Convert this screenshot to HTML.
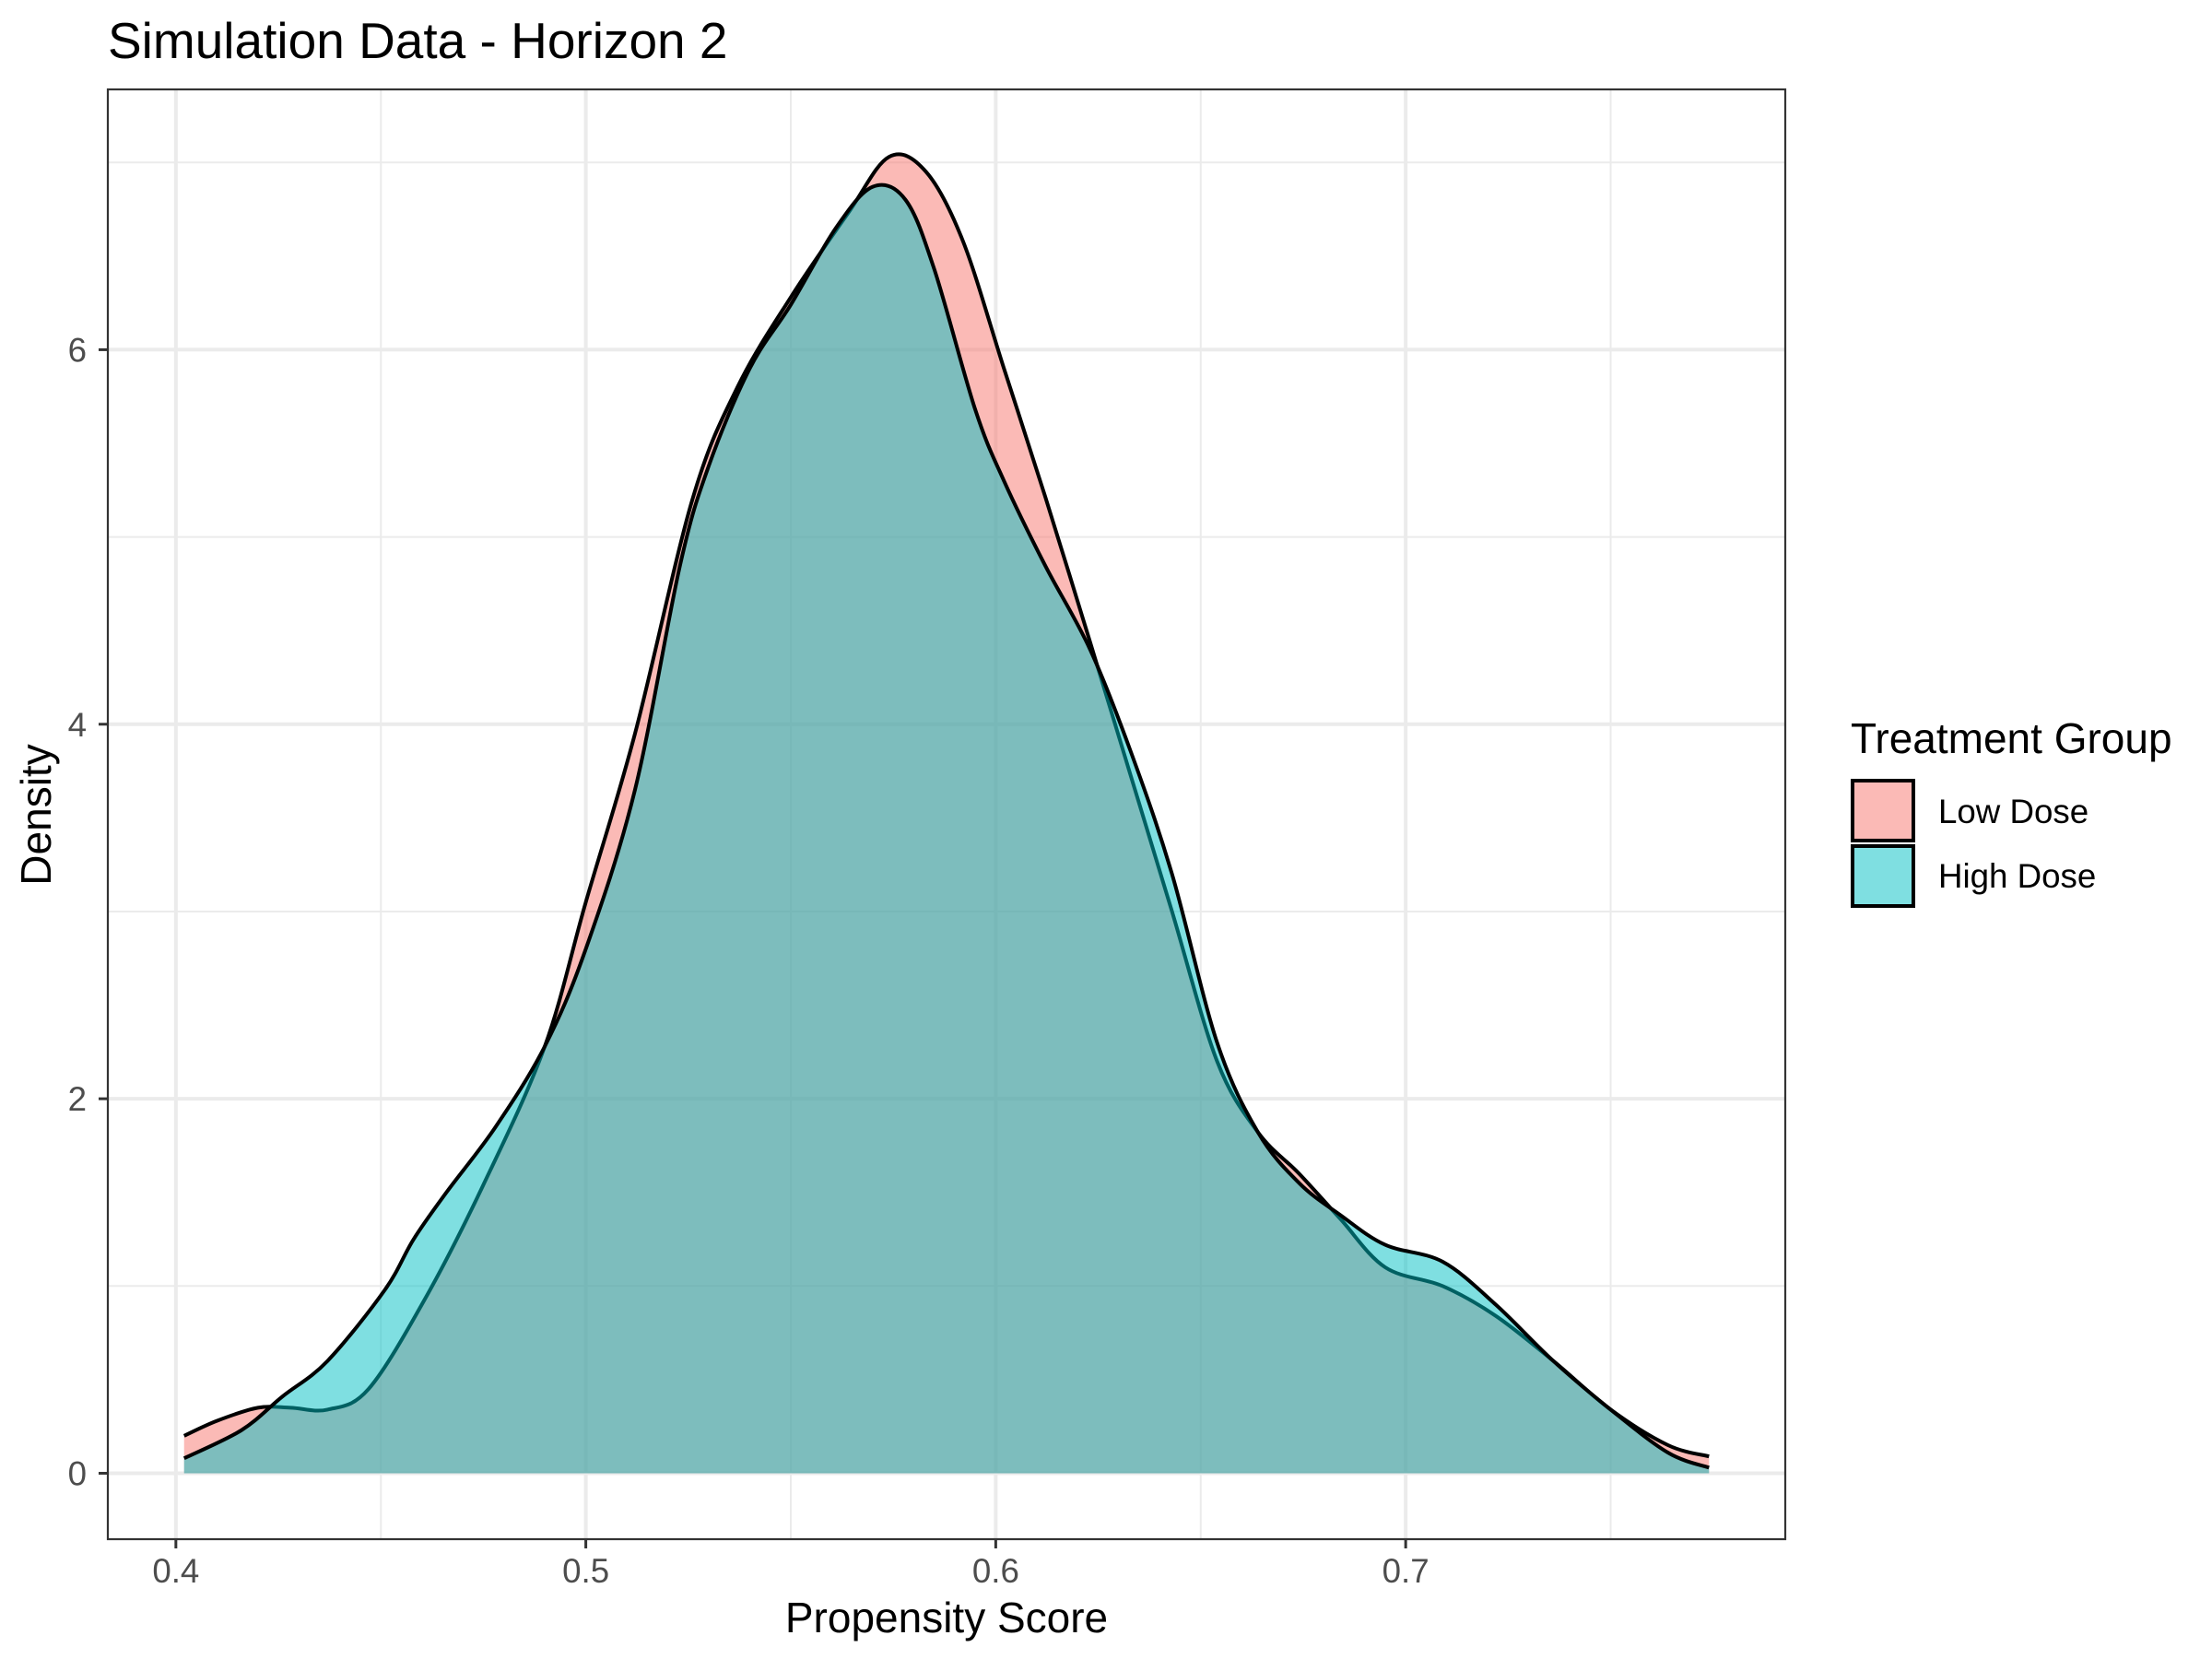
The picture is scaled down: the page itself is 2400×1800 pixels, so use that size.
<!DOCTYPE html>
<html><head><meta charset="utf-8"><style>
html,body{margin:0;padding:0;background:#fff;}
svg{display:block;font-family:"Liberation Sans",Arial,sans-serif;}
</style></head><body>
<svg id="chart" width="2400" height="1800" viewBox="0 0 2400 1800">
<rect width="2400" height="1800" fill="#fff"/>
<text x="117" y="63" font-size="55" fill="#000">Simulation Data - Horizon 2</text>
<g id="grid"></g>
<g id="series"></g>
<rect x="117" y="97" width="1820" height="1573" fill="none" stroke="#333" stroke-width="2.2"/>
<g id="axes"></g>
<text x="1027" y="1771" font-size="46" text-anchor="middle" fill="#000">Propensity Score</text>
<text transform="translate(55,884) rotate(-90)" font-size="46" text-anchor="middle" fill="#000">Density</text>
<g>
<text x="2008" y="817" font-size="46" fill="#000">Treatment Group</text>
<rect x="2010" y="847" width="66" height="65" fill="#F8766D" fill-opacity="0.5" stroke="#000" stroke-width="4"/>
<text x="2103" y="893" font-size="36.7" fill="#000">Low Dose</text>
<rect x="2010" y="918" width="66" height="65" fill="#00BFC4" fill-opacity="0.5" stroke="#000" stroke-width="4"/>
<text x="2103" y="963" font-size="36.7" fill="#000">High Dose</text>
</g>
</svg>
<script>
const lowX = [0.402,0.41,0.42,0.428,0.437,0.447,0.461,0.475,0.49,0.5,0.512,0.526,0.537,0.55,0.564,0.574,0.583,0.592,0.602,0.612,0.623,0.633,0.643,0.654,0.664,0.674,0.684,0.695,0.709,0.722,0.736,0.75,0.764,0.774];
const lowY = [0.20,0.28,0.35,0.35,0.34,0.45,0.94,1.54,2.28,3.05,3.95,5.2,5.8,6.28,6.73,7.03,6.95,6.58,5.9,5.22,4.44,3.72,3.0,2.2,1.82,1.6,1.36,1.1,1.0,0.84,0.6,0.34,0.15,0.09];
const highX = [0.402,0.416,0.426,0.437,0.451,0.458,0.466,0.478,0.49,0.5,0.512,0.523,0.53,0.54,0.55,0.561,0.57,0.578,0.585,0.595,0.602,0.612,0.623,0.633,0.643,0.654,0.664,0.674,0.684,0.695,0.709,0.722,0.736,0.75,0.764,0.774];
const highY = [0.08,0.23,0.41,0.6,0.98,1.25,1.5,1.85,2.28,2.8,3.65,4.85,5.38,5.9,6.24,6.65,6.87,6.8,6.43,5.68,5.3,4.85,4.4,3.85,3.2,2.3,1.82,1.55,1.38,1.22,1.13,0.9,0.6,0.34,0.11,0.03];
const xMajor = [0.4,0.5,0.6,0.7];
const xMinor = [0.45,0.55,0.65,0.75];
const yMajor = [0,2,4,6];
const yMinor = [1,3,5,7];
const xTickLabels = ["0.4","0.5","0.6","0.7"];
const yTickLabels = ["0","2","4","6"];

const NS = "http://www.w3.org/2000/svg";
const PL = 117, PR = 1937, PT = 97, PB = 1670;
const X0 = 0.3834, X1 = 0.7926, Y0 = -0.352, Y1 = 7.39;
function sx(v){ return PL + (v - X0) / (X1 - X0) * (PR - PL); }
function sy(v){ return PB - (v - Y0) / (Y1 - Y0) * (PB - PT); }
function mk(tag, attrs, parent){ const e = document.createElementNS(NS, tag); for (const k in attrs) e.setAttribute(k, attrs[k]); parent.appendChild(e); return e; }

const grid = document.getElementById('grid');
mk('rect',{x:PL,y:PT,width:PR-PL,height:PB-PT,fill:'#fff'},grid);
xMinor.forEach(v=>{ const l = mk('line',{x1:sx(v),x2:sx(v),y1:PT,y2:PB,stroke:'#EBEBEB','stroke-width':2},grid);

 });
yMinor.forEach(v=>{ const l = mk('line',{x1:PL,x2:PR,y1:sy(v),y2:sy(v),stroke:'#EBEBEB','stroke-width':2},grid);

 });
xMajor.forEach(v=>{ const l = mk('line',{x1:sx(v),x2:sx(v),y1:PT,y2:PB,stroke:'#EBEBEB','stroke-width':4},grid);

 });
yMajor.forEach(v=>{ const l = mk('line',{x1:PL,x2:PR,y1:sy(v),y2:sy(v),stroke:'#EBEBEB','stroke-width':4},grid);

 });

function curvePath(xs, ys){
  const p = xs.map((x,i)=>[sx(x), sy(ys[i])]);
  let d = `M${p[0][0]},${p[0][1]}`;
  for (let i=0;i<p.length-1;i++){
    const p0 = p[i-1]||p[i], p1 = p[i], p2 = p[i+1], p3 = p[i+2]||p[i+1];
    const c1 = [p1[0]+(p2[0]-p0[0])/6, p1[1]+(p2[1]-p0[1])/6];
    const c2 = [p2[0]-(p3[0]-p1[0])/6, p2[1]-(p3[1]-p1[1])/6];
    d += ` C${c1[0]},${c1[1]} ${c2[0]},${c2[1]} ${p2[0]},${p2[1]}`;
  }
  return d;
}
const series = document.getElementById('series');
function drawSeries(xs, ys, color, name){
  const top = curvePath(xs, ys);
  const area = `${top} L${sx(xs[xs.length-1])},${sy(0)} L${sx(xs[0])},${sy(0)} Z`;
  const a = mk('path',{d:area,fill:color,'fill-opacity':0.5,stroke:'none'},series);
  
  
  const l = mk('path',{d:top,fill:'none',stroke:'#000','stroke-width':4,'stroke-linejoin':'round'},series);
  
  
}
drawSeries(lowX, lowY, '#F8766D', 'low-dose');
drawSeries(highX, highY, '#00BFC4', 'high-dose');

const axes = document.getElementById('axes');
xMajor.forEach((v,i)=>{
  const t = mk('line',{x1:sx(v),x2:sx(v),y1:PB,y2:PB+10,stroke:'#333','stroke-width':3},axes);
  
  
  const tx = mk('text',{x:sx(v),y:1717,'font-size':36.7,'text-anchor':'middle',fill:'#4D4D4D'},axes);
  tx.textContent = xTickLabels[i];
  
  
});
yMajor.forEach((v,i)=>{
  const t = mk('line',{x1:PL-10,x2:PL,y1:sy(v),y2:sy(v),stroke:'#333','stroke-width':3},axes);
  
  
  const tx = mk('text',{x:94,y:sy(v)+13,'font-size':36.7,'text-anchor':'end',fill:'#4D4D4D'},axes);
  tx.textContent = yTickLabels[i];
  
  
});
</script>
</body></html>
